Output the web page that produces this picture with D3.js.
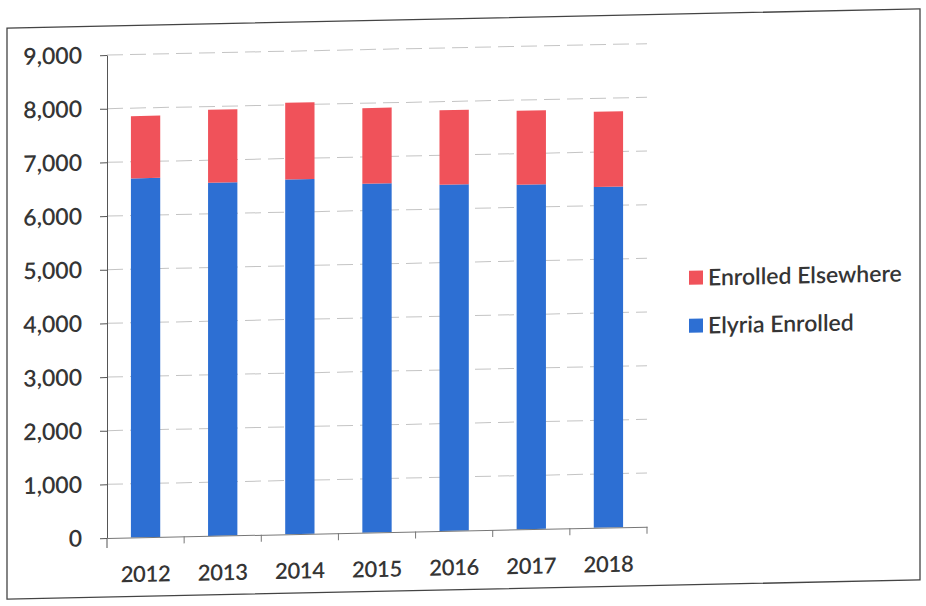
<!DOCTYPE html>
<html>
<head>
<meta charset="utf-8">
<script src="https://cdn.jsdelivr.net/npm/d3@7"></script>
<style>
  body { margin: 0; background: #fff; }
  svg { display: block; }
  svg text { font-family: Lato, "Open Sans", sans-serif; font-weight: 600; }
</style>
</head>
<body>
<div id="chart"></div>
<script>
const YEARS = ["2012", "2013", "2014", "2015", "2016", "2017", "2018"]
const ELYRIA_ENROLLED = [6690, 6580, 6610, 6500, 6450, 6420, 6350]
const ENROLLED_ELSEWHERE = [1160, 1360, 1430, 1410, 1390, 1380, 1400]
const Y_TICKS = [0, 1000, 2000, 3000, 4000, 5000, 6000, 7000, 8000, 9000]
const SERIES = ["Elyria Enrolled", "Enrolled Elsewhere"]
const COLORS = { "Elyria Enrolled": "#2d6fd3", "Enrolled Elsewhere": "#f0525a" }
const LEGEND_ORDER = ["Enrolled Elsewhere", "Elyria Enrolled"]

const MARGIN = { TOP: 55, LEFT: 107 }
const WIDTH = 540
const HEIGHT = 483
const SKEW = -0.021 // the scanned page is slightly tilted
const TEXT_COLOR = "#353535"

const svg = d3.select("#chart")
              .append("svg")
              .attr("width", 926)
              .attr("height", 606)

// everything sits in one sheared group, pivot at the chart origin
const g = svg.append("g")
             .attr("transform",
               `translate(${MARGIN.LEFT},${MARGIN.TOP + HEIGHT}) matrix(1,${SKEW},0,1,0,0) translate(0,${-HEIGHT})`)

// page frame
g.append("rect")
 .attr("x", 7 - MARGIN.LEFT)
 .attr("y", 26 - MARGIN.TOP)
 .attr("width", 913)
 .attr("height", 571)
 .attr("fill", "none")
 .attr("stroke", "#444")
 .attr("stroke-width", 1.3)

const data = YEARS.map((year, i) => ({
  year: year,
  "Elyria Enrolled": ELYRIA_ENROLLED[i],
  "Enrolled Elsewhere": ENROLLED_ELSEWHERE[i],
}))

const stacked = d3.stack().keys(SERIES)(data)

const x = d3.scaleBand()
            .domain(YEARS)
            .range([0, WIDTH])
            .paddingInner(0.62)
            .paddingOuter(0.31)

const y = d3.scaleLinear()
            .domain([0, 9000])
            .range([HEIGHT, 0])

// gridlines
g.append("g")
 .selectAll("line")
 .data(Y_TICKS.filter(d => d > 0))
 .enter()
 .append("line")
 .attr("x1", 0)
 .attr("x2", WIDTH)
 .attr("y1", d => y(d))
 .attr("y2", d => y(d))
 .attr("stroke", "#8a8a8a")
 .attr("stroke-opacity", 0.5)
 .attr("stroke-dasharray", "16,7")

// bars
g.append("g")
 .selectAll("g")
 .data(stacked)
 .enter()
 .append("g")
 .attr("fill", d => COLORS[d.key])
 .selectAll("rect")
 .data(d => d)
 .enter()
 .append("rect")
 .attr("x", d => x(d.data.year))
 .attr("width", x.bandwidth())
 .attr("y", d => y(d[1]))
 .attr("height", d => y(d[0]) - y(d[1]))

// y axis
const yAxis = g.append("g")
               .call(d3.axisLeft(y)
                       .tickValues(Y_TICKS)
                       .tickFormat(d3.format(","))
                       .tickSize(7)
                       .tickSizeOuter(0)
                       .tickPadding(18))
yAxis.selectAll("line, path").attr("stroke", "#555")
yAxis.selectAll("text")
     .attr("fill", TEXT_COLOR)
     .style("font-size", "23px")
yAxis.append("line")
     .attr("y1", HEIGHT)
     .attr("y2", HEIGHT + 10)
     .attr("stroke", "#555")

// x axis
const xAxis = g.append("g")
               .attr("transform", `translate(0,${HEIGHT})`)
               .call(d3.axisBottom(x).tickSize(0).tickPadding(29))
xAxis.select("path").attr("stroke", "#777")
xAxis.selectAll("text")
     .attr("fill", TEXT_COLOR)
     .style("font-size", "22px")
     .style("letter-spacing", "-0.3px")

// category boundary ticks
const halfGap = x.step() * x.paddingInner() / 2
xAxis.selectAll(".boundary")
     .data(YEARS)
     .enter()
     .append("line")
     .attr("class", "boundary")
     .attr("x1", d => x(d) + x.bandwidth() + halfGap)
     .attr("x2", d => x(d) + x.bandwidth() + halfGap)
     .attr("y2", 7)
     .attr("stroke", "#777")

// legend
const legend = g.append("g")
                .attr("transform", `translate(${689 - MARGIN.LEFT},${290 - MARGIN.TOP})`)

const items = legend.selectAll("g")
                    .data(LEGEND_ORDER)
                    .enter()
                    .append("g")
                    .attr("transform", (d, i) => `translate(0,${i * 48})`)

items.append("rect")
     .attr("y", -7)
     .attr("width", 14)
     .attr("height", 14)
     .attr("fill", d => COLORS[d])

items.append("text")
     .attr("x", 19)
     .attr("dy", "0.35em")
     .attr("fill", TEXT_COLOR)
     .style("font-size", "23px")
     .text(d => d)
</script>
</body>
</html>
